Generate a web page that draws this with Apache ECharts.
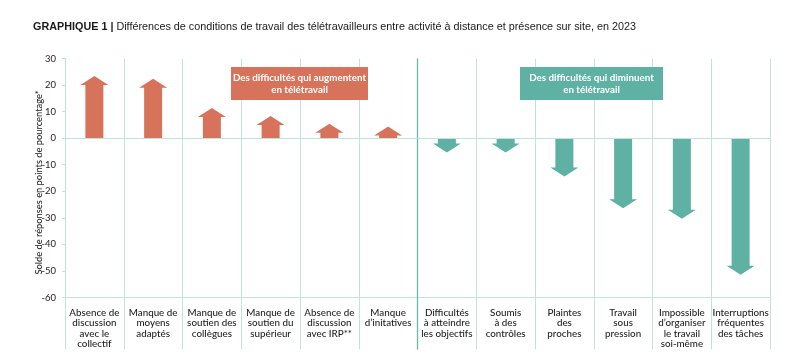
<!DOCTYPE html>
<html><head><meta charset="utf-8">
<script src="https://cdn.jsdelivr.net/npm/echarts@6/dist/echarts.min.js"></script>
<style>html,body{margin:0;padding:0;background:#fff}#c{width:800px;height:361px}</style>
</head><body><div id="c"></div>
<script>
const categories = [
  "Absence de\ndiscussion\navec le\ncollectif",
  "Manque de\nmoyens\nadaptés",
  "Manque de\nsoutien des\ncollègues",
  "Manque de\nsoutien du\nsupérieur",
  "Absence de\ndiscussion\navec IRP**",
  "Manque\nd’initatives",
  "Difficultés\nà atteindre\nles objectifs",
  "Soumis\nà des\ncontrôles",
  "Plaintes\ndes\nproches",
  "Travail\nsous\npression",
  "Impossible\nd’organiser\nle travail\nsoi-même",
  "Interruptions\nfréquentes\ndes tâches"
];
const values = [20, 19, 8, 5, 2, 1, -2, -2, -11, -23, -27, -48];
const yTicks = [30, 20, 10, 0, -10, -20, -30, -40, -50, -60];
const titleBold = "GRAPHIQUE 1 | ";
const titleText = "Différences de conditions de travail des télétravailleurs entre activité à distance et présence sur site, en 2023";
const yName = "Solde de réponses en points de pourcentage*";
const boxUp = "Des difficultés qui augmentent\nen télétravail";
const boxDown = "Des difficultés qui diminuent\nen télétravail";

const ORANGE = "#d6735a", TEAL = "#5fb1a3", GRID = "#c3e3da", DIV = "#6db8a8";
const FONT = "Lato, 'Open Sans', sans-serif";
const TFONT = "'Liberation Sans', sans-serif";

function box(left, top, w, h, fill, text) {
  return {
    type: 'group', left: left, top: top, z: 100,
    children: [
      {type: 'rect', z: 100, shape: {x: 0, y: 0, width: w, height: h}, style: {fill: fill}},
      {type: 'text', z: 101, x: w / 2, y: h / 2,
        style: {text: text, fill: '#fff', font: "bold 9.8px " + FONT, align: 'center', verticalAlign: 'middle', lineHeight: 12}}
    ]
  };
}

const chart = echarts.init(document.getElementById('c'), null, {renderer: 'canvas'});
chart.setOption({
  animation: false,
  backgroundColor: '#fff',
  title: {
    left: 33, top: 22, padding: 0,
    text: '{b|' + titleBold + '}{r|' + titleText + '}',
    textStyle: {
      fontWeight: 'normal',
      rich: {
        b: {fontFamily: TFONT, fontWeight: 'bold', fontSize: 10.8, color: '#1a1a1a'},
        r: {fontFamily: TFONT, fontWeight: 'normal', fontSize: 10.8, color: '#1a1a1a'}
      }
    }
  },
  grid: {left: 65, right: 30, top: 58.5, bottom: 63.5},
  xAxis: {
    type: 'category', data: categories, position: 'bottom',
    axisLine: {onZero: false, lineStyle: {color: GRID, width: 1}},
    axisTick: {show: true, length: 52, lineStyle: {color: GRID}},
    splitLine: {show: true, lineStyle: {color: GRID, width: 1}},
    axisLabel: {interval: 0, margin: 10, fontFamily: FONT, fontSize: 9.8, lineHeight: 10.5, color: '#1e1e1e', fontWeight: 500, verticalAlign: 'top'}
  },
  yAxis: {
    type: 'value', min: -60, max: 30, interval: 10,
    name: yName, nameLocation: 'middle', nameGap: 22, nameRotate: 90, nameMoveOverlap: false,
    nameTextStyle: {fontFamily: FONT, fontSize: 9.3, color: '#1e1e1e', fontWeight: 500, padding: [0, 9, 0, 0]},
    axisLine: {show: true, lineStyle: {color: GRID}},
    axisTick: {show: true, length: 3, lineStyle: {color: GRID}},
    splitLine: {show: false},
    axisLabel: {fontFamily: FONT, fontSize: 9.5, color: '#1e1e1e', margin: 9,
      formatter: v => yTicks.includes(v) ? String(v) : ''}
  },
  series: [
    {
      type: 'custom',
      data: values.map((v, i) => [i, v]),
      encode: {x: 0, y: 1},
      markLine: {
        silent: true, symbol: 'none', label: {show: false},
        lineStyle: {color: GRID, type: 'solid', width: 1},
        data: [{yAxis: 0}]
      },
      renderItem: function (params, api) {
        const i = api.value(0), v = api.value(1);
        const base = api.coord([i, 0]);
        const end = api.coord([i, v]);
        const cx = base[0];
        const s = v >= 0 ? 1 : -1;
        const hw = 9, hh = 14, ah = 9;
        const ey = end[1], by = base[1];
        const tip = ey - s * ah;
        return {
          type: 'polygon',
          shape: {points: [[cx - hw, by], [cx - hw, ey], [cx - hh, ey], [cx, tip], [cx + hh, ey], [cx + hw, ey], [cx + hw, by]]},
          style: {fill: v >= 0 ? ORANGE : TEAL}
        };
      },
      z: 3
    },
    {
      type: 'custom',
      data: [[5, 30]],
      encode: {x: 0, y: 1},
      silent: true,
      renderItem: function (params, api) {
        const top = api.coord([5, 30]);
        const bot = api.coord([5, -60]);
        const x = top[0] + api.size([1, 0])[0] / 2;
        return {type: 'line', shape: {x1: x, y1: top[1], x2: x, y2: bot[1] + 52},
          style: {stroke: DIV, lineWidth: 1.3}};
      },
      z: 4
    }
  ],
  graphic: [
    box(231, 67, 137, 33, ORANGE, boxUp),
    box(520, 67, 143, 33, TEAL, boxDown)
  ]
});
</script></body></html>
